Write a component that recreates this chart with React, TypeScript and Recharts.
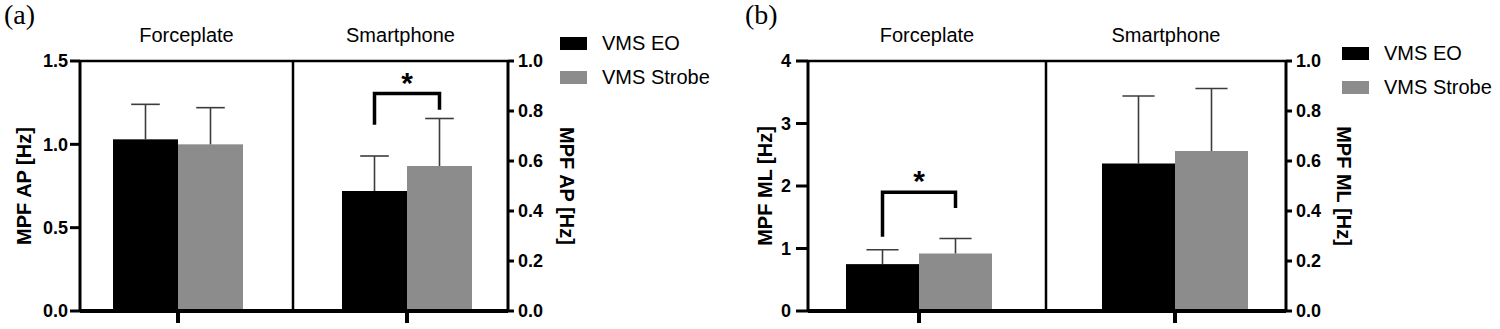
import React from 'react';
import { BarChart, Bar, XAxis, YAxis } from 'recharts';

const groups = ['Forceplate', 'Smartphone'];
const seriesNames = ['VMS EO', 'VMS Strobe'];
const seriesColors = ['#000000', '#8c8c8c'];

// (a) MPF AP, mean and SD per group
const apEO = [1.03, 0.48];
const apEOSd = [0.21, 0.14];
const apStrobe = [1.0, 0.58];
const apStrobeSd = [0.22, 0.19];
// significance bracket: [left leg end, bracket top, right leg end]
const apSig = [null, [0.745, 0.87, 0.805]];

// (b) MPF ML
const mlEO = [0.75, 0.59];
const mlEOSd = [0.23, 0.27];
const mlStrobe = [0.92, 0.64];
const mlStrobeSd = [0.24, 0.25];
const mlSig = [[1.19, 1.9, 1.65], null];

const apLeftTicks = [0, 0.5, 1, 1.5];
const mlLeftTicks = [0, 1, 2, 3, 4];
const rightTicks = [0, 0.2, 0.4, 0.6, 0.8, 1];

const FONT = '"Liberation Sans", Arial, sans-serif';
const H = 329;

const makeRows = (eo: number[], eoSd: number[], st: number[], stSd: number[], sig: any[]) =>
  groups.map((g, i) => ({ group: g, eo: eo[i], eoSd: eoSd[i], strobe: st[i], strobeSd: stSd[i], sig: sig[i] }));

const apRows = makeRows(apEO, apEOSd, apStrobe, apStrobeSd, apSig);
const mlRows = makeRows(mlEO, mlEOSd, mlStrobe, mlStrobeSd, mlSig);

// bar + one-sided SD whisker (+ bracket on the strobe bar if significant)
const BarShape = (props: any) => {
  const { x, y, width, height, fill, payload, valKey, sdKey, withSig } = props;
  const val = payload[valKey];
  const k = height / val;
  const base = y + height;
  const yv = (v: number) => base - v * k;
  const cx = x + width / 2;
  const errTop = y - payload[sdKey] * k;
  const cap = width * 0.44;
  const sig = withSig ? payload.sig : null;
  return (
    <g>
      <rect x={x} y={y} width={width} height={height} fill={fill} />
      <line x1={cx} x2={cx} y1={y} y2={errTop} stroke="#3c3c3c" strokeWidth={1.6} />
      <line x1={cx - cap / 2} x2={cx + cap / 2} y1={errTop} y2={errTop} stroke="#3c3c3c" strokeWidth={1.6} />
      {sig && (
        <g>
          <path
            d={`M${cx - width} ${yv(sig[0])} L${cx - width} ${yv(sig[1])} L${cx} ${yv(sig[1])} L${cx} ${yv(sig[2])}`}
            fill="none"
            stroke="#000"
            strokeWidth={3.5}
          />
          <text x={cx - width / 2} y={yv(sig[1]) - 1} textAnchor="middle" fontSize={30} fontWeight="bold" fill="#000">
            *
          </text>
        </g>
      )}
    </g>
  );
};

// category ticks keep their tick line but show no text
const NoLabel = () => <g />;

interface SubProps {
  row: any;
  left: number;
  width: number;
  margin: { top: number; right: number; bottom: number; left: number };
  side: 'left' | 'right';
  axisWidth: number;
  domain: [number, number];
  ticks: number[];
  digits: number;
  tickSize: number;
  tickMargin: number;
  axisTitle: string;
  titleDx: number;
  barSize: number;
  padding: { left: number; right: number };
  divider?: boolean;
}

const SubChart = (p: SubProps) => {
  const axisTitle = (lp: any) => {
    const vb = lp.viewBox;
    const cx = vb.x + vb.width / 2 + p.titleDx;
    const cy = vb.y + vb.height / 2;
    const ang = p.side === 'left' ? -90 : 90;
    return (
      <text
        x={cx}
        y={cy}
        transform={`rotate(${ang} ${cx} ${cy})`}
        textAnchor="middle"
        dominantBaseline="central"
        fontSize={20}
        fontWeight="bold"
        fill="#000"
      >
        {p.axisTitle}
      </text>
    );
  };
  const groupTitle = (lp: any) => {
    const vb = lp.viewBox;
    return (
      <text x={vb.x + vb.width / 2} y={42} textAnchor="middle" fontSize={20} fill="#000">
        {p.row.group}
      </text>
    );
  };
  return (
    <div style={{ position: 'absolute', left: p.left, top: 0 }}>
      <BarChart width={p.width} height={H} data={[p.row]} margin={p.margin} barGap={0} barSize={p.barSize}>
        <XAxis
          xAxisId="top"
          orientation="top"
          dataKey="group"
          height={50}
          tick={false}
          tickLine={false}
          axisLine={{ stroke: '#000', strokeWidth: 2.5 }}
          padding={p.padding}
          label={groupTitle}
        />
        <XAxis
          dataKey="group"
          height={18}
          tick={<NoLabel />}
          tickSize={12}
          tickLine={{ stroke: '#000', strokeWidth: 4 }}
          axisLine={{ stroke: '#000', strokeWidth: 4 }}
          padding={p.padding}
        />
        <YAxis
          yAxisId="v"
          orientation={p.side}
          width={p.axisWidth}
          domain={p.domain}
          ticks={p.ticks}
          interval={0}
          tickSize={p.tickSize}
          tickMargin={p.tickMargin}
          tickFormatter={(v: number) => v.toFixed(p.digits)}
          tick={{ fontSize: 18, fontWeight: 'bold', fill: '#000' }}
          tickLine={{ stroke: '#000', strokeWidth: 3 }}
          axisLine={{ stroke: '#000', strokeWidth: 3 }}
          label={axisTitle}
        />
        {p.divider && (
          <YAxis
            yAxisId="div"
            orientation="right"
            width={1}
            domain={[0, 1]}
            allowDataOverflow
            tick={false}
            tickLine={false}
            axisLine={{ stroke: '#000', strokeWidth: 2.5 }}
          />
        )}
        <Bar
          yAxisId="v"
          dataKey="eo"
          name={seriesNames[0]}
          fill={seriesColors[0]}
          isAnimationActive={false}
          shape={(sp: any) => <BarShape {...sp} valKey="eo" sdKey="eoSd" />}
        />
        <Bar
          yAxisId="v"
          dataKey="strobe"
          name={seriesNames[1]}
          fill={seriesColors[1]}
          isAnimationActive={false}
          shape={(sp: any) => <BarShape {...sp} valKey="strobe" sdKey="strobeSd" withSig />}
        />
      </BarChart>
    </div>
  );
};

const LegendBox = ({ left, top }: { left: number; top: number }) => (
  <>
    {seriesNames.map((n, i) => (
      <div
        key={n}
        style={{
          position: 'absolute',
          left,
          top: top + i * 34,
          height: 13,
          display: 'flex',
          alignItems: 'center',
          whiteSpace: 'nowrap',
        }}
      >
        <div style={{ width: 27, height: 13, background: seriesColors[i] }} />
        <span style={{ marginLeft: 15, fontSize: 20, color: '#000' }}>{n}</span>
      </div>
    ))}
  </>
);

const PanelTag = ({ left, text }: { left: number; text: string }) => (
  <div
    style={{
      position: 'absolute',
      left,
      top: 1,
      fontFamily: '"Liberation Serif", "Times New Roman", serif',
      fontSize: 28,
      lineHeight: '28px',
      color: '#000',
    }}
  >
    {text}
  </div>
);

export default function App() {
  return (
    <div
      style={{
        position: 'absolute',
        left: 0,
        top: 0,
        width: 1500,
        height: H,
        background: '#fff',
        fontFamily: FONT,
        overflow: 'hidden',
      }}
    >
      <PanelTag left={4} text="(a)" />
      <SubChart
        row={apRows[0]}
        left={0}
        width={300}
        margin={{ top: 11, right: 6, bottom: 0, left: 0 }}
        side="left"
        axisWidth={80}
        domain={[0, 1.5]}
        ticks={apLeftTicks}
        digits={1}
        tickSize={10}
        tickMargin={2}
        axisTitle="MPF AP [Hz]"
        titleDx={-16}
        barSize={65}
        padding={{ left: 28, right: 45 }}
        divider
      />
      <SubChart
        row={apRows[1]}
        left={280}
        width={300}
        margin={{ top: 11, right: 0, bottom: 0, left: 13 }}
        side="right"
        axisWidth={72}
        domain={[0, 1]}
        ticks={rightTicks}
        digits={1}
        tickSize={6}
        tickMargin={4}
        axisTitle="MPF AP [Hz]"
        titleDx={23}
        barSize={65}
        padding={{ left: 44, right: 31 }}
      />
      <LegendBox left={560} top={37} />

      <PanelTag left={745} text="(b)" />
      <SubChart
        row={mlRows[0]}
        left={728}
        width={330}
        margin={{ top: 11, right: 11, bottom: 0, left: 0 }}
        side="left"
        axisWidth={80}
        domain={[0, 4]}
        ticks={mlLeftTicks}
        digits={0}
        tickSize={12}
        tickMargin={5}
        axisTitle="MPF ML [Hz]"
        titleDx={-3}
        barSize={73}
        padding={{ left: 31, right: 47 }}
        divider
      />
      <SubChart
        row={mlRows[1]}
        left={1033}
        width={325}
        margin={{ top: 11, right: 0, bottom: 0, left: 13 }}
        side="right"
        axisWidth={72}
        domain={[0, 1]}
        ticks={rightTicks}
        digits={1}
        tickSize={6}
        tickMargin={4}
        axisTitle="MPF ML [Hz]"
        titleDx={22}
        barSize={73}
        padding={{ left: 49, right: 31 }}
      />
      <LegendBox left={1342} top={47} />
    </div>
  );
}
